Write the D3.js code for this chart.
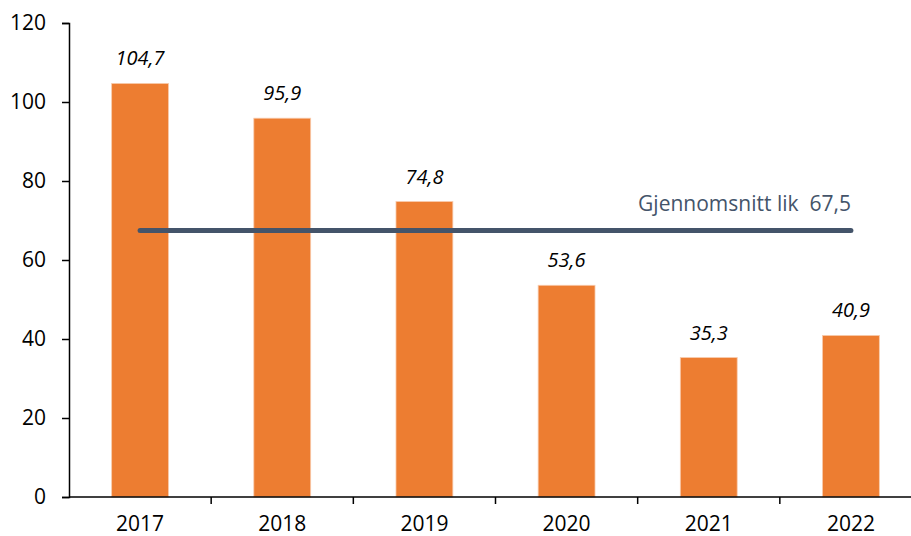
<!DOCTYPE html>
<html>
<head>
<meta charset="utf-8">
<script src="https://cdn.jsdelivr.net/npm/d3@7"></script>
<style>
  body { margin: 0; background: #fff; }
  svg { display: block; font-family: "Open Sans", sans-serif; }
</style>
</head>
<body>
<div id="vis"></div>
<script>
// chart data
const years = ["2017", "2018", "2019", "2020", "2021", "2022"];
const values = [104.7, 95.9, 74.8, 53.6, 35.3, 40.9];
const average = 67.5;
const averageLabel = "Gjennomsnitt lik  67,5";
const yTicks = [0, 20, 40, 60, 80, 100, 120];

const width = 911;
const height = 536;
const margin = { top: 23, right: -11, bottom: 39, left: 69 };

const fmt = (v) => String(v).replace(".", ",");

const svg = d3
  .select("#vis")
  .append("svg")
  .attr("width", width)
  .attr("height", height);

const x = d3
  .scaleBand()
  .domain(years)
  .range([margin.left, width - margin.right]);

const y = d3
  .scaleLinear()
  .domain([0, 120])
  .range([height - margin.bottom, margin.top]);

// bars are 40% of the category width
const barWidth = x.bandwidth() * 0.4;

svg
  .selectAll(".bar")
  .data(values)
  .enter()
  .append("rect")
  .attr("class", "bar")
  .attr("x", (d, i) => x(years[i]) + (x.bandwidth() - barWidth) / 2)
  .attr("y", (d) => y(d))
  .attr("width", barWidth)
  .attr("height", (d) => y(0) - y(d))
  .attr("fill", "#ED7D31")
  .attr("stroke", "#F8CBAD")
  .attr("stroke-width", 0.8);

// value labels above bars
svg
  .selectAll(".value")
  .data(values)
  .enter()
  .append("text")
  .attr("class", "value")
  .attr("x", (d, i) => x(years[i]) + x.bandwidth() / 2)
  .attr("y", (d) => y(d) - 18)
  .attr("text-anchor", "middle")
  .attr("font-size", 20)
  .attr("font-style", "italic")
  .attr("fill", "#000")
  .text((d) => fmt(d));

// y axis
const yAxis = svg
  .append("g")
  .attr("transform", `translate(${margin.left},0)`)
  .call(d3.axisLeft(y).tickValues(yTicks).tickSize(7).tickPadding(16));

// x axis, ticks on category boundaries
const xAxis = svg
  .append("g")
  .attr("transform", `translate(0,${y(0)})`)
  .call(d3.axisBottom(x).tickSize(0).tickPadding(19));

xAxis
  .selectAll(".boundary")
  .data(years.slice(1))
  .enter()
  .append("line")
  .attr("class", "boundary")
  .attr("x1", (d) => x(d))
  .attr("x2", (d) => x(d))
  .attr("y1", 0)
  .attr("y2", 7)
  .attr("stroke", "#000")
  .attr("stroke-width", 1.5);

[yAxis, xAxis].forEach((g) => {
  g.select(".domain").attr("stroke", "#000").attr("stroke-width", 1.5);
  g.selectAll(".tick line").attr("stroke", "#000").attr("stroke-width", 1.5);
  g.selectAll(".tick text")
    .attr("font-size", 21)
    .attr("font-family", "Open Sans, sans-serif")
    .attr("fill", "#000");
});
xAxis.select(".domain").attr("d", `M${x.range()[0]},0H${x.range()[1]}`);

// average line from first to last bar centre
const first = x(years[0]) + x.bandwidth() / 2;
const last = x(years[years.length - 1]) + x.bandwidth() / 2;

svg
  .append("line")
  .attr("x1", first)
  .attr("x2", last)
  .attr("y1", y(average))
  .attr("y2", y(average))
  .attr("stroke", "#44546A")
  .attr("stroke-width", 5)
  .attr("stroke-linecap", "round");

svg
  .append("text")
  .attr("x", last)
  .attr("y", y(average) - 19)
  .attr("text-anchor", "end")
  .attr("font-size", 21)
  .attr("fill", "#44546A")
  .attr("xml:space", "preserve")
  .style("white-space", "pre")
  .text(averageLabel);
</script>
</body>
</html>
